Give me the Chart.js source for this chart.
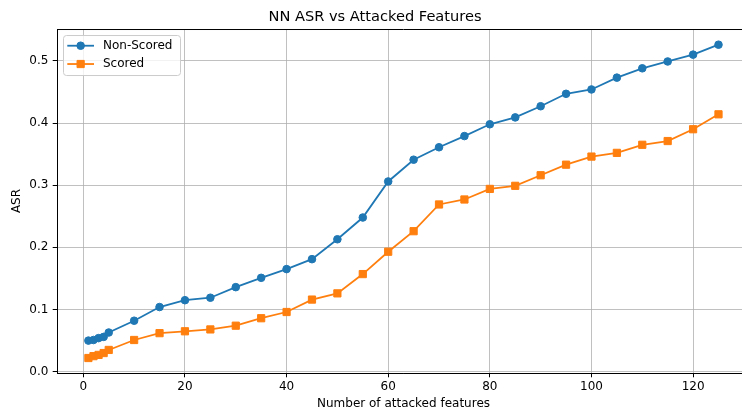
<!DOCTYPE html>
<html>
<head>
<meta charset="utf-8">
<script src="https://cdn.jsdelivr.net/npm/chart.js@4/dist/chart.umd.min.js"></script>
<style>
html, body { margin: 0; padding: 0; overflow: hidden; background: #fff; width: 742px; height: 407px; }
#clip { position: relative; width: 742px; height: 407px; overflow: hidden; }
#wrap { position: absolute; left: 0; top: 0; width: 760px; height: 420px; }
</style>
</head>
<body>
<div id="clip"><div id="wrap"><canvas id="c"></canvas></div></div>
<script>
// ---- data ----
const features = [1, 2, 3, 4, 5, 10, 15, 20, 25, 30, 35, 40, 45, 50, 55, 60, 65, 70, 75, 80, 85, 90, 95, 100, 105, 110, 115, 120, 125];
const nonScored = [0.050, 0.051, 0.054, 0.056, 0.063, 0.082, 0.104, 0.115, 0.119, 0.136, 0.151, 0.165, 0.181, 0.213, 0.248, 0.306, 0.341, 0.361, 0.379, 0.398, 0.409, 0.427, 0.447, 0.454, 0.473, 0.488, 0.499, 0.510, 0.526];
const scored = [0.022, 0.025, 0.027, 0.030, 0.035, 0.051, 0.062, 0.065, 0.068, 0.074, 0.086, 0.096, 0.116, 0.126, 0.157, 0.193, 0.226, 0.269, 0.277, 0.294, 0.299, 0.316, 0.333, 0.346, 0.352, 0.365, 0.371, 0.390, 0.414];
const xTicks = [0, 20, 40, 60, 80, 100, 120];
const yTicks = [0.0, 0.1, 0.2, 0.3, 0.4, 0.5];
const seriesNames = ['Non-Scored', 'Scored'];
const titleText = 'NN ASR vs Attacked Features';
const xTitle = 'Number of attacked features';
const yTitle = 'ASR';

// ---- styling ----
const FONT = "'DejaVu Sans', 'Liberation Sans', sans-serif";
const BLUE = '#1f77b4';
const ORANGE = '#ff7f0e';
Chart.defaults.color = '#000';
Chart.defaults.font.family = FONT;
Chart.defaults.font.size = 12;

function toXY(xs, ys) { return xs.map((x, i) => ({ x: x, y: ys[i] })); }

const frameAndLegend = {
  id: 'frameAndLegend',
  afterDatasetsDraw(chart) {
    const ctx = chart.ctx;
    const a = chart.chartArea;
    ctx.save();
    // top + right spines
    ctx.strokeStyle = '#000';
    ctx.lineWidth = 1;
    ctx.beginPath();
    ctx.moveTo(a.left, a.top + 0.5);
    ctx.lineTo(a.right, a.top + 0.5);
    ctx.moveTo(a.right - 0.5, a.top);
    ctx.lineTo(a.right - 0.5, a.bottom);
    ctx.stroke();

    // legend
    const lx = a.left + 6, ly = a.top + 6, lw = 117, lh = 40;
    ctx.beginPath();
    ctx.roundRect(lx + 0.5, ly + 0.5, lw, lh, 3);
    ctx.fillStyle = 'rgba(255,255,255,0.8)';
    ctx.fill();
    ctx.strokeStyle = '#cccccc';
    ctx.lineWidth = 1;
    ctx.stroke();

    chart.data.datasets.forEach((ds, i) => {
      const cy = ly + 10.7 + i * 18.3;
      const x0 = lx + 4.3, x1 = lx + 31;
      const mx = (x0 + x1) / 2;
      ctx.strokeStyle = ds.borderColor;
      ctx.lineWidth = ds.borderWidth;
      ctx.beginPath();
      ctx.moveTo(x0, cy);
      ctx.lineTo(x1, cy);
      ctx.stroke();
      ctx.fillStyle = ds.pointBackgroundColor;
      ctx.strokeStyle = ds.pointBorderColor;
      ctx.lineWidth = ds.pointBorderWidth;
      ctx.beginPath();
      if (ds.pointStyle === 'circle') {
        ctx.arc(mx, cy, ds.pointRadius, 0, Math.PI * 2);
      } else {
        const s = Math.SQRT1_2 * ds.pointRadius;
        ctx.rect(mx - s, cy - s, 2 * s, 2 * s);
      }
      ctx.fill();
      ctx.stroke();
      ctx.fillStyle = '#000';
      ctx.font = '12px ' + FONT;
      ctx.textBaseline = 'middle';
      ctx.textAlign = 'left';
      ctx.fillText(ds.label, lx + 40, cy);
    });
    ctx.restore();
  }
};

new Chart(document.getElementById('c'), {
  type: 'line',
  data: {
    datasets: [
      {
        label: seriesNames[0],
        data: toXY(features, nonScored),
        borderColor: BLUE,
        backgroundColor: BLUE,
        pointBackgroundColor: BLUE,
        pointBorderColor: BLUE,
        borderWidth: 1.8,
        pointStyle: 'circle',
        pointRadius: 3.8,
        pointBorderWidth: 1,
        tension: 0,
        fill: false
      },
      {
        label: seriesNames[1],
        data: toXY(features, scored),
        borderColor: ORANGE,
        backgroundColor: ORANGE,
        pointBackgroundColor: ORANGE,
        pointBorderColor: ORANGE,
        borderWidth: 1.8,
        pointStyle: 'rect',
        pointRadius: 5.1,
        pointBorderWidth: 1,
        tension: 0,
        fill: false
      }
    ]
  },
  options: {
    responsive: true,
    maintainAspectRatio: false,
    animation: false,
    devicePixelRatio: 1,
    layout: { padding: { left: 0, right: 10, top: 0, bottom: 0 } },
    plugins: {
      legend: { display: false },
      tooltip: { enabled: false },
      title: {
        display: true,
        text: titleText,
        font: { size: 14.6, weight: 'normal', family: FONT, lineHeight: 1.2 },
        color: '#000',
        padding: { top: 8, bottom: 3.5 }
      }
    },
    scales: {
      x: {
        type: 'linear',
        min: -5.18,
        max: 131.2,
        afterFit(s) { s.height = 47; },
        afterBuildTicks(s) { s.ticks = xTicks.map(v => ({ value: v })); },
        ticks: { padding: 2.5, font: { size: 12 }, color: '#000', maxRotation: 0, callback: v => String(v) },
        grid: { color: '#b0b0b0', lineWidth: 0.8, drawTicks: true, tickLength: 4.3, tickColor: '#000', tickWidth: 1 },
        border: { display: true, color: '#000', width: 1 },
        title: { display: true, text: xTitle, font: { size: 12 }, color: '#000', padding: { top: 0, bottom: 9 } }
      },
      y: {
        type: 'linear',
        min: -0.0021,
        max: 0.5512,
        afterFit(s) { s.width = 57; },
        afterBuildTicks(s) { s.ticks = yTicks.map(v => ({ value: v })); },
        ticks: { padding: 4.3, font: { size: 12 }, color: '#000', callback: v => Number(v).toFixed(1) },
        grid: { color: '#b0b0b0', lineWidth: 0.8, drawTicks: true, tickLength: 4.3, tickColor: '#000', tickWidth: 1 },
        border: { display: true, color: '#000', width: 1 },
        title: { display: true, text: yTitle, font: { size: 12 }, color: '#000', padding: { top: 9.8, bottom: 0 } }
      }
    }
  },
  plugins: [frameAndLegend]
});
</script>
</body>
</html>
